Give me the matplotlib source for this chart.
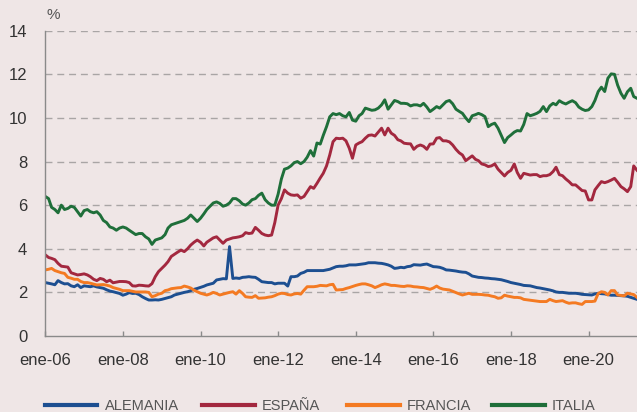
import pandas as pd
import matplotlib.pyplot as plt
import matplotlib.dates as mdates

# =========================
# DATA (monthly, ene-2006 .. abr-2021)
# =========================
fechas = pd.date_range("2006-01-01", periods=184, freq="MS")

alemania = [
    2.45, 2.42, 2.39, 2.35, 2.54, 2.45, 2.39, 2.40, 2.30, 2.26, 2.35, 2.22,
    2.30, 2.28, 2.26, 2.30, 2.25, 2.22, 2.19, 2.12, 2.06, 2.03, 1.99, 1.95,
    1.87, 1.92, 1.99, 1.95, 1.96, 1.90, 1.80, 1.72, 1.65, 1.65, 1.66, 1.65,
    1.68, 1.72, 1.76, 1.80, 1.88, 1.92, 1.96, 2.00, 2.03, 2.08, 2.14, 2.18,
    2.23, 2.28, 2.34, 2.38, 2.42, 2.57, 2.60, 2.63, 2.62, 4.10, 2.64, 2.66,
    2.64, 2.69, 2.70, 2.72, 2.70, 2.69, 2.60, 2.49, 2.47, 2.45, 2.45, 2.39,
    2.42, 2.42, 2.42, 2.29, 2.72, 2.72, 2.75, 2.87, 2.92, 3.00, 3.00, 3.00,
    3.00, 3.00, 3.00, 3.03, 3.06, 3.12, 3.18, 3.20, 3.20, 3.22, 3.26, 3.26,
    3.26, 3.28, 3.30, 3.32, 3.36, 3.36, 3.36, 3.34, 3.33, 3.30, 3.26, 3.20,
    3.10, 3.12, 3.15, 3.13, 3.18, 3.20, 3.27, 3.26, 3.25, 3.28, 3.30, 3.24,
    3.18, 3.17, 3.15, 3.10, 3.03, 3.02, 3.00, 2.98, 2.95, 2.93, 2.92, 2.85,
    2.75, 2.72, 2.69, 2.68, 2.66, 2.65, 2.63, 2.62, 2.60, 2.58, 2.54, 2.50,
    2.45, 2.42, 2.39, 2.36, 2.32, 2.31, 2.30, 2.26, 2.22, 2.20, 2.17, 2.14,
    2.11, 2.07, 2.02, 2.00, 2.00, 1.98, 1.96, 1.96, 1.96, 1.94, 1.91, 1.90,
    1.89, 1.88, 1.93, 1.96, 1.94, 1.93, 1.90, 1.87, 1.87, 1.86, 1.85, 1.84,
    1.82, 1.77, 1.72, 1.68,
]

espana = [
    3.72, 3.60, 3.56, 3.50, 3.33, 3.20, 3.18, 3.16, 2.90, 2.85, 2.80, 2.82,
    2.85, 2.80, 2.72, 2.60, 2.54, 2.64, 2.60, 2.49, 2.56, 2.44, 2.47, 2.50,
    2.50, 2.49, 2.45, 2.30, 2.29, 2.33, 2.32, 2.30, 2.29, 2.40, 2.72, 2.95,
    3.10, 3.25, 3.41, 3.65, 3.75, 3.85, 3.94, 3.87, 4.00, 4.17, 4.30, 4.40,
    4.30, 4.13, 4.30, 4.40, 4.50, 4.55, 4.40, 4.25, 4.40, 4.45, 4.50, 4.52,
    4.55, 4.60, 4.74, 4.70, 4.72, 4.98, 4.85, 4.70, 4.63, 4.60, 4.63, 5.20,
    6.00, 6.30, 6.70, 6.55, 6.47, 6.45, 6.47, 6.32, 6.40, 6.62, 6.85, 6.77,
    7.00, 7.25, 7.46, 7.80, 8.30, 8.91, 9.07, 9.05, 9.07, 8.95, 8.61, 8.15,
    8.76, 8.85, 8.91, 9.07, 9.20, 9.22, 9.17, 9.35, 9.53, 9.22, 9.53, 9.30,
    9.20, 9.00, 8.95, 8.84, 8.82, 8.81, 8.56, 8.70, 8.76, 8.70, 8.56, 8.80,
    8.81, 9.07, 9.10, 8.95, 8.95, 8.90, 8.76, 8.56, 8.40, 8.30, 8.04, 8.15,
    8.26, 8.10, 8.04, 7.89, 7.85, 7.77, 7.80, 7.89, 7.65, 7.50, 7.34, 7.50,
    7.60, 7.89, 7.50, 7.23, 7.46, 7.42, 7.38, 7.40, 7.40, 7.31, 7.35, 7.35,
    7.40, 7.54, 7.74, 7.40, 7.35, 7.20, 7.08, 6.93, 6.93, 6.80, 6.67, 6.65,
    6.24, 6.24, 6.70, 6.90, 7.08, 7.03, 7.08, 7.15, 7.23, 7.05, 6.85, 6.75,
    6.62, 6.85, 7.80, 7.60,
]

francia = [
    3.03, 3.06, 3.10, 3.00, 2.95, 2.90, 2.87, 2.69, 2.65, 2.60, 2.60, 2.50,
    2.45, 2.45, 2.42, 2.38, 2.34, 2.35, 2.36, 2.33, 2.29, 2.22, 2.18, 2.14,
    2.08, 2.08, 2.08, 2.05, 2.02, 2.02, 2.02, 2.02, 2.00, 1.80, 1.85, 1.92,
    1.96, 2.08, 2.11, 2.17, 2.19, 2.21, 2.22, 2.29, 2.25, 2.20, 2.10, 2.03,
    1.96, 1.92, 1.88, 1.93, 2.00, 1.95, 1.88, 1.92, 1.96, 2.00, 2.03, 1.92,
    2.08, 1.95, 1.80, 1.78, 1.77, 1.85, 1.73, 1.74, 1.75, 1.78, 1.80, 1.85,
    1.92, 1.96, 1.95, 1.90, 1.88, 1.93, 1.95, 1.92, 2.10, 2.26, 2.26, 2.26,
    2.28, 2.32, 2.31, 2.30, 2.35, 2.37, 2.11, 2.12, 2.13, 2.18, 2.22, 2.27,
    2.32, 2.36, 2.39, 2.39, 2.35, 2.30, 2.22, 2.28, 2.35, 2.39, 2.36, 2.32,
    2.32, 2.30, 2.28, 2.27, 2.30, 2.29, 2.26, 2.25, 2.23, 2.22, 2.18, 2.14,
    2.20, 2.29, 2.20, 2.15, 2.13, 2.11, 2.05, 1.99, 1.93, 1.88, 1.92, 1.96,
    1.91, 1.91, 1.91, 1.90, 1.88, 1.87, 1.83, 1.80, 1.73, 1.75, 1.87, 1.83,
    1.80, 1.77, 1.77, 1.75, 1.68, 1.66, 1.64, 1.62, 1.60, 1.58, 1.58, 1.58,
    1.68, 1.62, 1.58, 1.60, 1.62, 1.55, 1.50, 1.52, 1.52, 1.48, 1.45, 1.58,
    1.58, 1.58, 1.60, 1.95, 2.03, 2.00, 1.88, 2.08, 2.08, 1.88, 1.86, 1.84,
    1.96, 1.93, 1.90, 1.77,
]

italia = [
    6.40, 6.30, 5.90, 5.80, 5.65, 6.00, 5.80, 5.85, 5.95, 5.90, 5.70, 5.50,
    5.75, 5.80, 5.70, 5.65, 5.70, 5.55, 5.30, 5.20, 5.00, 4.95, 4.85, 4.95,
    5.00, 4.95, 4.85, 4.75, 4.65, 4.70, 4.70, 4.55, 4.45, 4.20, 4.40, 4.45,
    4.50, 4.65, 4.95, 5.10, 5.15, 5.20, 5.25, 5.30, 5.40, 5.55, 5.40, 5.25,
    5.40, 5.60, 5.80, 5.95, 6.10, 6.15, 6.08, 5.95, 6.00, 6.10, 6.30, 6.30,
    6.20, 6.05, 6.00, 6.10, 6.25, 6.30, 6.45, 6.55, 6.25, 6.10, 6.00, 6.00,
    6.50, 7.20, 7.65, 7.70, 7.80, 7.95, 8.00, 7.90, 8.00, 8.20, 8.50, 8.25,
    8.85, 8.80, 9.20, 9.60, 10.05, 10.20, 10.15, 10.20, 10.10, 10.05, 10.25, 9.90,
    9.85, 10.10, 10.20, 10.45, 10.40, 10.35, 10.37, 10.45, 10.60, 10.83, 10.40, 10.60,
    10.80, 10.75, 10.67, 10.67, 10.65, 10.55, 10.60, 10.60, 10.55, 10.67, 10.50, 10.29,
    10.40, 10.52, 10.45, 10.60, 10.75, 10.80, 10.65, 10.40, 10.30, 10.21, 10.00, 9.83,
    10.10, 10.15, 10.21, 10.15, 10.06, 9.60, 9.70, 9.76, 9.53, 9.20, 8.87, 9.10,
    9.22, 9.35, 9.42, 9.40, 9.70, 10.20, 10.10, 10.15, 10.21, 10.30, 10.52, 10.29,
    10.55, 10.67, 10.60, 10.79, 10.70, 10.64, 10.72, 10.79, 10.70, 10.50, 10.40, 10.34,
    10.37, 10.52, 10.80, 11.21, 11.41, 11.21, 11.82, 12.02, 12.00, 11.50, 11.13, 10.90,
    11.20, 11.36, 10.98, 10.90,
]

series = ["ALEMANIA", "ESPAÑA", "FRANCIA", "ITALIA"]
colores = ["#1d4f91", "#a3283f", "#f47a22", "#1f6f3a"]

ticks_anios = [2006, 2008, 2010, 2012, 2014, 2016, 2018, 2020]
ticks_labels = ["ene-06", "ene-08", "ene-10", "ene-12", "ene-14", "ene-16", "ene-18", "ene-20"]

# =========================
# FIGURE
# =========================
fondo = "#efe6e6"
gris = "#8a8a8a"
texto = "#333333"

fig = plt.figure(figsize=(6.37, 4.12), dpi=100, facecolor=fondo)
ax = fig.add_axes([45.3 / 637, 1 - 336 / 412, 1 - 45.3 / 637, (336 - 30.7) / 412])
ax.set_facecolor(fondo)

lineas = []
for nombre, valores, color in zip(series, [alemania, espana, francia, italia], colores):
    l, = ax.plot(fechas, valores, color=color, linewidth=2.1, label=nombre,
                 solid_joinstyle="round")
    lineas.append(l)

ax.set_ylim(0, 14)
ax.set_yticks(range(0, 15, 2))
ax.set_xlim(fechas[0], fechas[-1])
ax.set_xticks([pd.Timestamp(f"{a}-01-01") for a in ticks_anios])
ax.set_xticklabels(ticks_labels)

# dashed gridlines (not at 0)
for y in range(2, 15, 2):
    ax.axhline(y, color="#a9a5a5", linewidth=1.0, linestyle=(0, (5, 3.5)), zorder=0)

for s in ["top", "right"]:
    ax.spines[s].set_visible(False)
for s in ["left", "bottom"]:
    ax.spines[s].set_color(gris)
    ax.spines[s].set_linewidth(1.0)

ax.tick_params(axis="x", direction="in", length=3.5, width=1, color=gris,
               pad=12, labelsize=12, labelcolor=texto)
ax.tick_params(axis="y", length=0, pad=13, labelsize=12, labelcolor=texto)
for lab in ax.get_xticklabels() + ax.get_yticklabels():
    lab.set_fontfamily("Liberation Sans")

fig.text(53 / 637, 1 - 15 / 412, "%", ha="center", va="center", fontsize=11,
         color="#555555", family="Liberation Sans")

# legend: one entry per position, like the original
pos_leyenda = [44.7, 202.3, 347.3, 492.3]
for linea, x0 in zip(lineas, pos_leyenda):
    leg = fig.legend([linea], [linea.get_label()], loc="center left",
                     bbox_to_anchor=(x0 / 637, 1 - 406 / 412),
                     frameon=False, borderpad=0, borderaxespad=0,
                     handlelength=3.6, handletextpad=0.5,
                     prop={"family": "Liberation Sans", "size": 10.5})
    for h in leg.get_lines():
        h.set_linewidth(3.0)
    for t in leg.get_texts():
        t.set_color("#555555")

plt.savefig("out.png", dpi=100, facecolor=fondo)
